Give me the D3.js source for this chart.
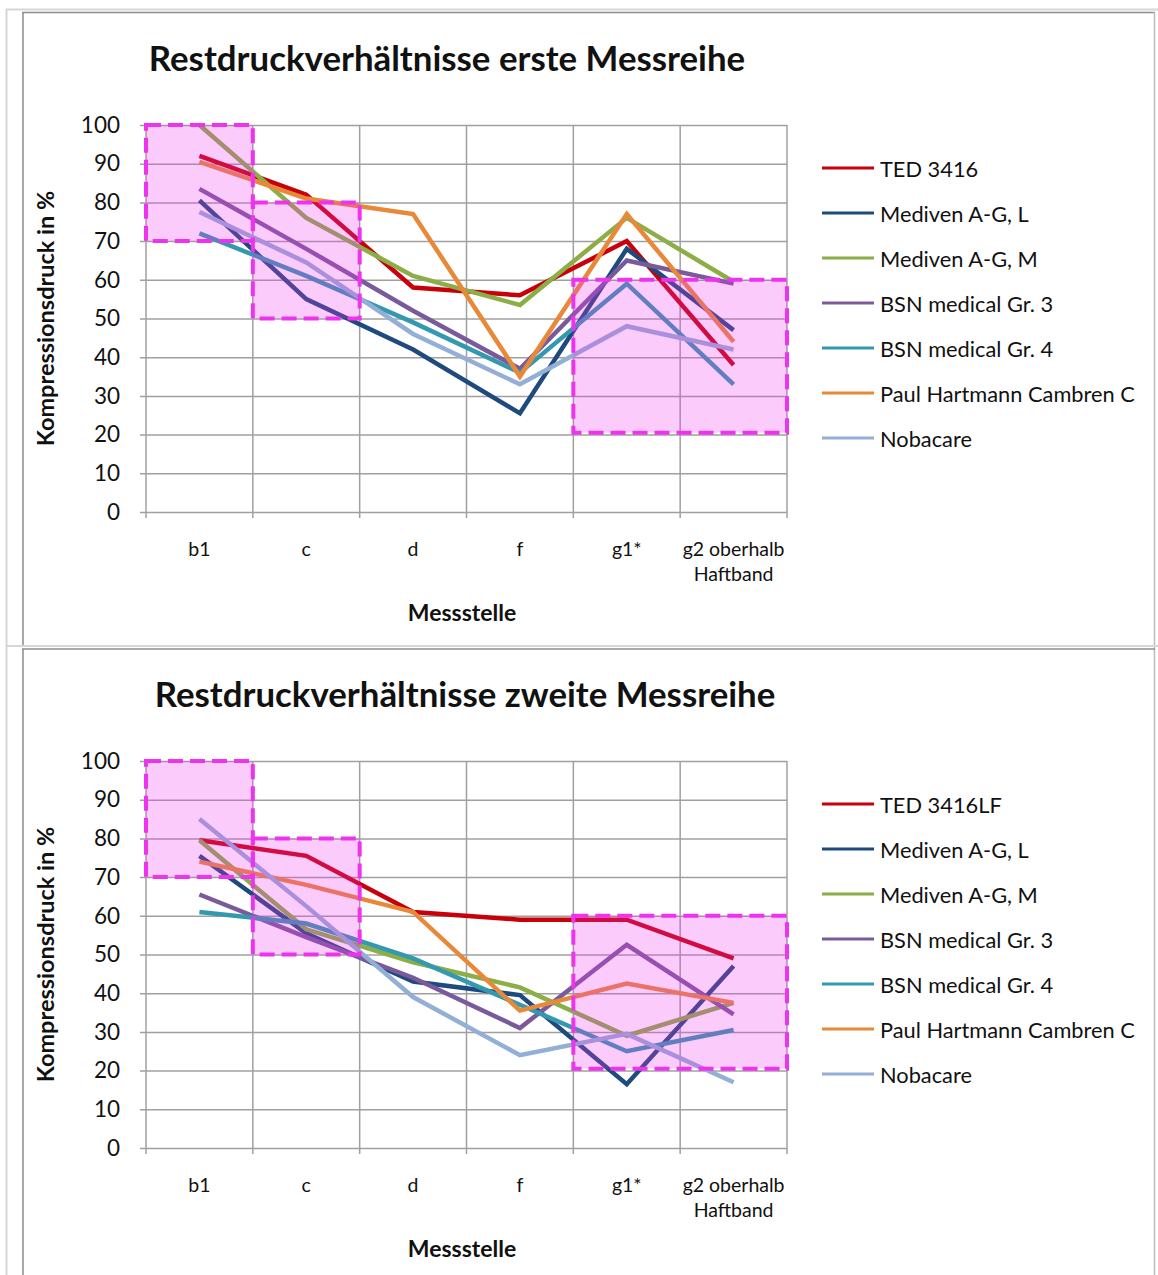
<!DOCTYPE html>
<html><head><meta charset="utf-8">
<script src="https://cdn.jsdelivr.net/npm/d3@7"></script>
<style>
body{margin:0;background:#fff;}
svg{display:block;font-family:"Lato","Liberation Sans",sans-serif;}
</style></head>
<body><svg id="c" width="1158" height="1275"></svg>
<script>
const categories = ["b1","c","d","f","g1*","g2 oberhalb|Haftband"];
const yTicks = [0,10,20,30,40,50,60,70,80,90,100];
const seriesNames1 = ["TED 3416","Mediven A-G, L","Mediven A-G, M","BSN medical Gr. 3","BSN medical Gr. 4","Paul Hartmann Cambren C","Nobacare"];
const seriesNames2 = ["TED 3416LF","Mediven A-G, L","Mediven A-G, M","BSN medical Gr. 3","BSN medical Gr. 4","Paul Hartmann Cambren C","Nobacare"];
const colors = ["#C8000A","#1F4A7E","#8BAE46","#7A5A9C","#3399B0","#E8893A","#93AFD6"];
// Series values, first measurement series
const ted1      = [92, 82, 58, 56, 70, 38];
const medL1     = [80.5, 55, 42, 25.5, 68, 47];
const medM1     = [100, 76, 61, 53.5, 76, 59.5];
const bsn3_1    = [83.5, 68, 52, 37, 65, 59];
const bsn4_1    = [72, 61, 49, 36, 59, 33];
const hartmann1 = [90.5, 81, 77, 35, 77, 44];
const noba1     = [77.5, 64.5, 46, 33, 48, 42];
// Series values, second measurement series
const ted2      = [79.5, 75.5, 61, 59, 59, 49];
const medL2     = [75.5, 55.5, 43, 39.5, 16.5, 47];
const medM2     = [79.5, 56.5, 48, 41.5, 29, 37.5];
const bsn3_2    = [65.5, 54.5, 44, 31, 52.5, 34.5];
const bsn4_2    = [61, 58, 49, 37, 25, 30.5];
const hartmann2 = [74, 68, 61, 35.5, 42.5, 37.5];
const noba2     = [85, 62.5, 39, 24, 29.5, 17];
// Highlight boxes: [first category index, last category index, y top, y bottom]
const boxes1 = [[0,0,100,70],[1,1,80,50],[4,5,60,20.5]];
const boxes2 = [[0,0,100,70],[1,1,80,50],[4,5,60,20.5]];

const svg = d3.select("#c");

// panel frames
const fr = svg.append("g");
fr.append("line").attr("x1",6).attr("x2",1158).attr("y1",9.5).attr("y2",9.5).attr("stroke","#d6d6d6").attr("stroke-width",2);
fr.append("line").attr("x1",6.5).attr("x2",6.5).attr("y1",9).attr("y2",1275).attr("stroke","#d6d6d6").attr("stroke-width",2);
fr.append("line").attr("x1",22).attr("x2",1155).attr("y1",12.5).attr("y2",12.5).attr("stroke","#8c8c8c").attr("stroke-width",1.5);
fr.append("line").attr("x1",23).attr("x2",23).attr("y1",12).attr("y2",645).attr("stroke","#8c8c8c").attr("stroke-width",1.5);
fr.append("line").attr("x1",1154.5).attr("x2",1154.5).attr("y1",12).attr("y2",1275).attr("stroke","#bdbdbd").attr("stroke-width",1.5);
fr.append("line").attr("x1",6).attr("x2",1158).attr("y1",646).attr("y2",646).attr("stroke","#d6d6d6").attr("stroke-width",2);
fr.append("line").attr("x1",22).attr("x2",1155).attr("y1",649).attr("y2",649).attr("stroke","#8c8c8c").attr("stroke-width",1.5);
fr.append("line").attr("x1",23).attr("x2",23).attr("y1",649).attr("y2",1275).attr("stroke","#8c8c8c").attr("stroke-width",1.5);

function drawChart(oy, title, titleX, names, data, boxes){
  const g = svg.append("g").attr("transform",`translate(0,${oy})`);
  const left=146, right=787, top=125, bottom=512;
  const x = d3.scaleBand().domain(categories).range([left,right]);
  const y = d3.scaleLinear().domain([0,100]).range([bottom,top]);
  g.append("text").attr("x",titleX).attr("y",57).attr("text-anchor","middle").attr("dominant-baseline","central")
   .attr("font-size",34.8).attr("font-weight","bold").attr("fill","#111").text(title);
  // horizontal grid + y axis
  const yAxis = d3.axisLeft(y).tickValues(yTicks).tickSize(right-left+6).tickPadding(20);
  const ya = g.append("g").attr("transform",`translate(${right},0)`).call(yAxis);
  ya.select(".domain").remove();
  ya.selectAll("line").attr("stroke","#a0a0a0").attr("stroke-width",1.5);
  ya.selectAll("text").attr("font-size",22.5).attr("fill","#111").attr("font-family","Lato, sans-serif");
  // vertical grid at category boundaries
  const bounds = categories.map(c=>x(c)).concat([x(categories[categories.length-1])+x.bandwidth()]);
  g.append("g").selectAll("line").data(bounds).join("line")
   .attr("x1",d=>d).attr("x2",d=>d).attr("y1",top).attr("y2",bottom+6)
   .attr("stroke","#a0a0a0").attr("stroke-width",1.5);
  // category labels
  const xl = g.append("g");
  categories.forEach(c=>{
    const parts=c.split("|");
    const t = xl.append("text").attr("x",x(c)+x.bandwidth()/2).attr("y",548).attr("text-anchor","middle")
      .attr("dominant-baseline","central").attr("font-size",19.5).attr("fill","#111");
    parts.forEach((p,i)=>{ t.append("tspan").attr("x",x(c)+x.bandwidth()/2).attr("dy",i===0?0:25).text(p); });
  });
  g.append("text").attr("x",462).attr("y",612).attr("text-anchor","middle").attr("dominant-baseline","central")
   .attr("font-size",23).attr("font-weight","bold").attr("fill","#111").text("Messstelle");
  g.append("text").attr("transform",`translate(45,${(top+bottom)/2}) rotate(-90)`).attr("text-anchor","middle")
   .attr("dominant-baseline","central").attr("font-size",23.5).attr("font-weight","bold").attr("fill","#111").text("Kompressionsdruck in %");
  // lines
  const line = d3.line().x((d,i)=>x(categories[i])+x.bandwidth()/2).y(d=>y(d));
  data.forEach((s,k)=>{
    g.append("path").attr("d",line(s)).attr("fill","none").attr("stroke",colors[k]).attr("stroke-width",4.5)
     .attr("stroke-linejoin","miter");
  });
  // highlight boxes
  boxes.forEach(b=>{
    const x0=x(categories[b[0]]), x1=x(categories[b[1]])+x.bandwidth();
    g.append("rect").attr("x",x0).attr("y",y(b[2])).attr("width",x1-x0).attr("height",y(b[3])-y(b[2]))
     .attr("fill","rgba(240,48,240,0.25)").attr("stroke","#EE33EE").attr("stroke-width",4).attr("stroke-dasharray","15,7");
  });
  // legend
  const lg = g.append("g");
  names.forEach((n,k)=>{
    const ly = 168 + k*45;
    lg.append("line").attr("x1",822).attr("x2",874).attr("y1",ly).attr("y2",ly).attr("stroke",colors[k]).attr("stroke-width",3);
    lg.append("text").attr("x",880).attr("y",ly).attr("dominant-baseline","central").attr("font-size",21.8).attr("fill","#111").text(n);
  });
}
drawChart(0,"Restdruckverhältnisse erste Messreihe",447,seriesNames1,[ted1,medL1,medM1,bsn3_1,bsn4_1,hartmann1,noba1],boxes1);
drawChart(636,"Restdruckverhältnisse zweite Messreihe",465,seriesNames2,[ted2,medL2,medM2,bsn3_2,bsn4_2,hartmann2,noba2],boxes2);
</script></body></html>
